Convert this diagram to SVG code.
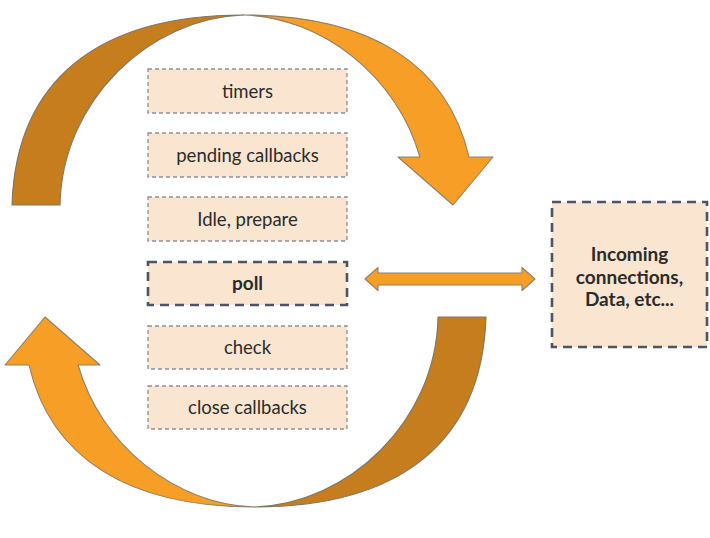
<svg xmlns="http://www.w3.org/2000/svg" width="710" height="538" viewBox="0 0 710 538">
  <defs>
    <style>
      .light { fill: #F69E26; stroke: #8E8068; stroke-width: 1.1; stroke-linejoin: round; }
      .dark { fill: #C57D1E; stroke: #7E7664; stroke-width: 1.1; stroke-linejoin: round; }
      .phase rect { fill: #FAE6D0; stroke: #8E8E98; stroke-width: 1.3; stroke-dasharray: 4 3; }
      .strong rect { fill: #FAE6D0; stroke: #4D5467; stroke-width: 2.6; stroke-dasharray: 9 6; }
      text { font-family: Lato, "Open Sans", "Liberation Sans", sans-serif; font-size: 18.5px; fill: #2B2B2B; text-anchor: middle; }
      .b { font-weight: bold; font-size: 19px; }
    </style>
    <g id="curvedArrow">
      <path class="light" d="M243.5,15 C369.07,15 447.35,63.4 469,157 L493,157 L453,205 L398,157 L419.9,157 C396.97,76 322.18,17.52 243.5,15 Z"/>
      <path class="dark" d="M12,205 C16,80 98,15 243.5,15 C150,18 62,100 60,205 Z"/>
    </g>
  </defs>
  <rect width="710" height="538" fill="#FFFFFF"/>
  <g id="connectors">
    <use href="#curvedArrow"/>
    <use href="#curvedArrow" transform="rotate(180 249 261)"/>
    <path class="light" d="M365,279 L378,267.5 L378,273 L522,273 L522,267.5 L535,279 L522,290.5 L522,285 L378,285 L378,290.5 Z"/>
  </g>
  <g id="timers" class="phase">
    <rect x="148" y="69" width="199" height="44"/>
    <text x="247.5" y="97.5">timers</text>
  </g>
  <g id="pending" class="phase">
    <rect x="148" y="133" width="199" height="44"/>
    <text x="247.5" y="161.5">pending callbacks</text>
  </g>
  <g id="idle" class="phase">
    <rect x="148" y="197" width="199" height="44"/>
    <text x="247.5" y="225.5">Idle, prepare</text>
  </g>
  <g id="poll" class="strong">
    <rect x="148" y="262" width="199" height="43"/>
    <text class="b" x="247.5" y="289.5">poll</text>
  </g>
  <g id="check" class="phase">
    <rect x="148" y="326" width="199" height="43"/>
    <text x="247.5" y="354">check</text>
  </g>
  <g id="close" class="phase">
    <rect x="148" y="386" width="199" height="43"/>
    <text x="247.5" y="414">close callbacks</text>
  </g>
  <g id="incoming" class="strong">
    <rect x="552" y="202" width="155" height="145"/>
    <text class="b" x="629.5" y="261">Incoming</text>
    <text class="b" x="629.5" y="284">connections,</text>
    <text class="b" x="629.5" y="306">Data, etc...</text>
  </g>
</svg>
